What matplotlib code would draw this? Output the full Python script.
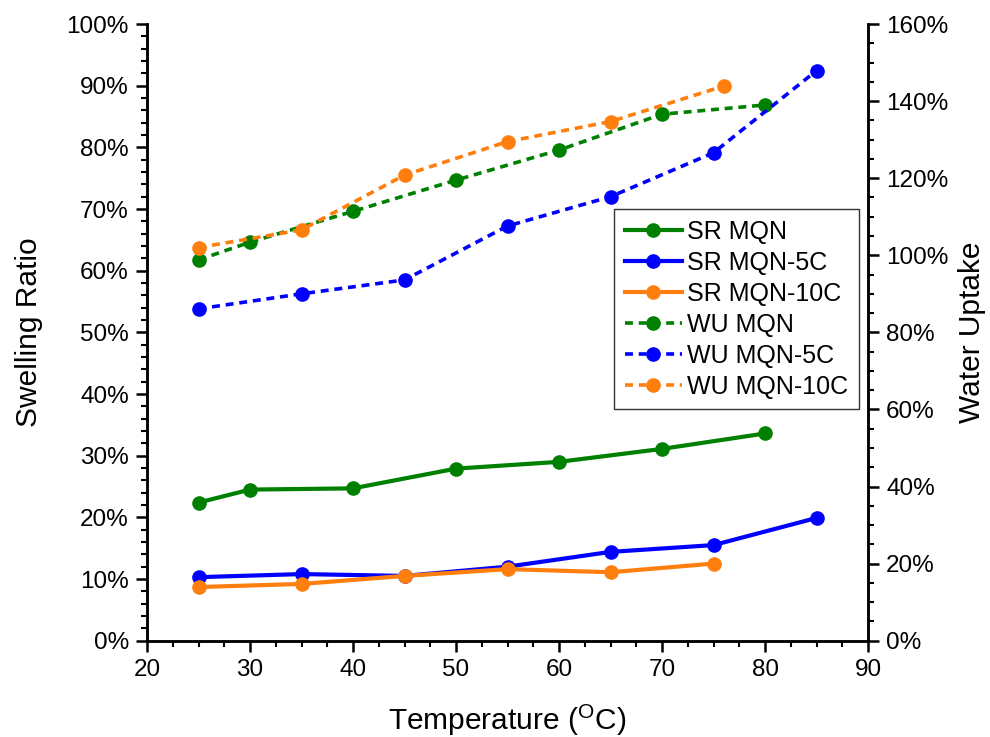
import matplotlib
matplotlib.use("Agg")
import matplotlib.pyplot as plt
from matplotlib.ticker import MultipleLocator, PercentFormatter

plt.rcParams['font.family'] = ['Liberation Sans', 'DejaVu Sans']

# Swelling ratio data (%), left axis
sr_mqn_x = [25, 30, 40, 50, 60, 70, 80]
sr_mqn_y = [22.4, 24.5, 24.7, 27.9, 29.0, 31.1, 33.6]
sr_5c_x = [25, 35, 45, 55, 65, 75, 85]
sr_5c_y = [10.3, 10.8, 10.5, 12.0, 14.4, 15.5, 19.9]
sr_10c_x = [25, 35, 45, 55, 65, 75]
sr_10c_y = [8.7, 9.2, 10.5, 11.6, 11.1, 12.5]

# Water uptake data (%), right axis
wu_mqn_x = [25, 30, 40, 50, 60, 70, 80]
wu_mqn_y = [98.8, 103.4, 111.4, 119.5, 127.3, 136.6, 139.0]
wu_5c_x = [25, 35, 45, 55, 65, 75, 85]
wu_5c_y = [86.1, 90.0, 93.6, 107.6, 115.2, 126.6, 147.9]
wu_10c_x = [25, 35, 45, 55, 65, 76]
wu_10c_y = [102.0, 106.6, 120.8, 129.5, 134.7, 143.9]

labels_sr = ["SR MQN", "SR MQN-5C", "SR MQN-10C"]
labels_wu = ["WU MQN", "WU MQN-5C", "WU MQN-10C"]
colors = ["#008000", "#0000FF", "#FF7F0E"]

fig = plt.figure(figsize=(9.9, 7.37), dpi=100)
ax = fig.add_axes([0.1485, 0.1307, 0.7283, 0.8367])
ax2 = ax.twinx()

lw = 3.0
ms = 9.5
handles = []
for (x, y), lab, c in zip([(sr_mqn_x, sr_mqn_y), (sr_5c_x, sr_5c_y), (sr_10c_x, sr_10c_y)], labels_sr, colors):
    h, = ax.plot(x, y, '-', color=c, lw=lw, marker='o', ms=ms, label=lab)
    handles.append(h)
for (x, y), lab, c in zip([(wu_mqn_x, wu_mqn_y), (wu_5c_x, wu_5c_y), (wu_10c_x, wu_10c_y)], labels_wu, colors):
    h, = ax2.plot(x, y, color=c, lw=2.6, ls=(0, (2.2, 1.6)), marker='o', ms=ms, label=lab)
    handles.append(h)

ax.set_xlim(20, 90)
ax.set_ylim(0, 100)
ax2.set_ylim(0, 160)

ax.xaxis.set_major_locator(MultipleLocator(10))
ax.xaxis.set_minor_locator(MultipleLocator(2.5))
ax.yaxis.set_major_locator(MultipleLocator(10))
ax.yaxis.set_minor_locator(MultipleLocator(2))
ax.yaxis.set_major_formatter(PercentFormatter(decimals=0))
ax2.yaxis.set_major_locator(MultipleLocator(20))
ax2.yaxis.set_minor_locator(MultipleLocator(5))
ax2.yaxis.set_major_formatter(PercentFormatter(decimals=0))

for a in (ax, ax2):
    a.spines['top'].set_visible(False)
    for s in a.spines.values():
        s.set_linewidth(1.8)
    a.tick_params(which='major', direction='out', length=8, width=1.8, labelsize=17.5, pad=5)
    a.tick_params(which='minor', direction='out', length=4.5, width=1.5)

ax.set_xlabel("Temperature ($\\mathregular{^O}$C)", fontsize=21.5, labelpad=16)
ax.set_ylabel("Swelling Ratio", fontsize=21.5, labelpad=17)
ax2.set_ylabel("Water Uptake", fontsize=21.5, labelpad=7)

leg = ax2.legend(handles=handles, loc='upper left', bbox_to_anchor=(0.648, 0.700),
                 borderaxespad=0, fontsize=18, handlelength=2.3, handletextpad=0.2,
                 labelspacing=0.28, borderpad=0.42, frameon=True, fancybox=False,
                 framealpha=1, edgecolor='#333333')
leg.get_frame().set_linewidth(1.0)

fig.savefig("out.png", dpi=100)
